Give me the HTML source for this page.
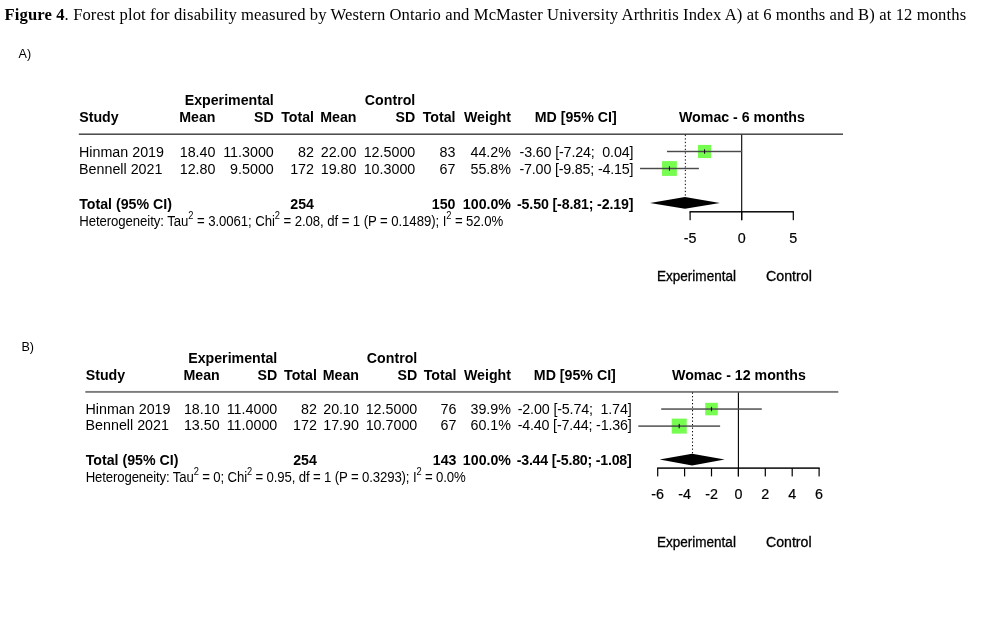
<!DOCTYPE html>
<html><head><meta charset="utf-8"><title>Figure 4</title>
<style>html,body{margin:0;padding:0;background:#fff;width:1008px;height:630px;overflow:hidden}
svg{display:block;will-change:transform} text{font-family:"Liberation Sans", sans-serif}</style></head>
<body><svg width="1008" height="630" viewBox="0 0 1008 630">
<rect width="1008" height="630" fill="#fff"/>
<text x="4.6" y="19.7" style='font-family:"Liberation Serif", serif' font-size="16.6" fill="#000" textLength="961.5" lengthAdjust="spacing"><tspan font-weight="bold">Figure 4</tspan>. Forest plot for disability measured by Western Ontario and McMaster University Arthritis Index A) at 6 months and B) at 12 months</text>
<text transform="translate(18.5,57.5) scale(1,1.08)" text-anchor="start" font-size="12.6" fill="#000" >A)</text>
<text transform="translate(273.8,104.9) scale(1,1.08)" text-anchor="end" font-size="14.2" font-weight="bold" fill="#000" >Experimental</text>
<text transform="translate(415.3,104.9) scale(1,1.08)" text-anchor="end" font-size="14.2" font-weight="bold" fill="#000" >Control</text>
<text transform="translate(79.2,122) scale(1,1.08)" text-anchor="start" font-size="14.2" font-weight="bold" fill="#000" >Study</text>
<text transform="translate(215.5,122) scale(1,1.08)" text-anchor="end" font-size="14.2" font-weight="bold" fill="#000" >Mean</text>
<text transform="translate(273.8,122) scale(1,1.08)" text-anchor="end" font-size="14.2" font-weight="bold" fill="#000" >SD</text>
<text transform="translate(314,122) scale(1,1.08)" text-anchor="end" font-size="14.2" font-weight="bold" fill="#000" >Total</text>
<text transform="translate(356.5,122) scale(1,1.08)" text-anchor="end" font-size="14.2" font-weight="bold" fill="#000" >Mean</text>
<text transform="translate(415.3,122) scale(1,1.08)" text-anchor="end" font-size="14.2" font-weight="bold" fill="#000" >SD</text>
<text transform="translate(455.5,122) scale(1,1.08)" text-anchor="end" font-size="14.2" font-weight="bold" fill="#000" >Total</text>
<text transform="translate(511,122) scale(1,1.08)" text-anchor="end" font-size="14.2" font-weight="bold" fill="#000" >Weight</text>
<text transform="translate(575.7,122) scale(1,1.08)" text-anchor="middle" font-size="14.2" font-weight="bold" fill="#000" >MD [95% CI]</text>
<text transform="translate(741.9,122) scale(1,1.08)" text-anchor="middle" font-size="14.2" font-weight="bold" fill="#000" >Womac - 6 months</text>
<rect x="78.8" y="133.45" width="764.2" height="1.5" fill="#474747"/>
<text transform="translate(79.0,156.7) scale(1,1.08)" text-anchor="start" font-size="14.3" fill="#000" >Hinman 2019</text>
<text transform="translate(215.5,156.7) scale(1,1.08)" text-anchor="end" font-size="14.3" fill="#000" >18.40</text>
<text transform="translate(273.8,156.7) scale(1,1.08)" text-anchor="end" font-size="14.3" fill="#000" >11.3000</text>
<text transform="translate(314,156.7) scale(1,1.08)" text-anchor="end" font-size="14.3" fill="#000" >82</text>
<text transform="translate(356.5,156.7) scale(1,1.08)" text-anchor="end" font-size="14.3" fill="#000" >22.00</text>
<text transform="translate(415.3,156.7) scale(1,1.08)" text-anchor="end" font-size="14.3" fill="#000" >12.5000</text>
<text transform="translate(455.5,156.7) scale(1,1.08)" text-anchor="end" font-size="14.3" fill="#000" >83</text>
<text transform="translate(511,156.7) scale(1,1.08)" text-anchor="end" font-size="14.3" fill="#000" >44.2%</text>
<text transform="translate(633.5,156.7) scale(1,1.08)" text-anchor="end" font-size="14.3" fill="#000" xml:space="preserve" textLength="114" lengthAdjust="spacing">-3.60 [-7.24;  0.04]</text>
<text transform="translate(79.0,173.6) scale(1,1.08)" text-anchor="start" font-size="14.3" fill="#000" >Bennell 2021</text>
<text transform="translate(215.5,173.6) scale(1,1.08)" text-anchor="end" font-size="14.3" fill="#000" >12.80</text>
<text transform="translate(273.8,173.6) scale(1,1.08)" text-anchor="end" font-size="14.3" fill="#000" >9.5000</text>
<text transform="translate(314,173.6) scale(1,1.08)" text-anchor="end" font-size="14.3" fill="#000" >172</text>
<text transform="translate(356.5,173.6) scale(1,1.08)" text-anchor="end" font-size="14.3" fill="#000" >19.80</text>
<text transform="translate(415.3,173.6) scale(1,1.08)" text-anchor="end" font-size="14.3" fill="#000" >10.3000</text>
<text transform="translate(455.5,173.6) scale(1,1.08)" text-anchor="end" font-size="14.3" fill="#000" >67</text>
<text transform="translate(511,173.6) scale(1,1.08)" text-anchor="end" font-size="14.3" fill="#000" >55.8%</text>
<text transform="translate(633.5,173.6) scale(1,1.08)" text-anchor="end" font-size="14.3" fill="#000" xml:space="preserve" textLength="114" lengthAdjust="spacing">-7.00 [-9.85; -4.15]</text>
<text transform="translate(79.2,208.7) scale(1,1.08)" text-anchor="start" font-size="14.2" font-weight="bold" fill="#000" >Total (95% CI)</text>
<text transform="translate(314,208.7) scale(1,1.08)" text-anchor="end" font-size="14.2" font-weight="bold" fill="#000" >254</text>
<text transform="translate(455.5,208.7) scale(1,1.08)" text-anchor="end" font-size="14.2" font-weight="bold" fill="#000" >150</text>
<text transform="translate(511,208.7) scale(1,1.08)" text-anchor="end" font-size="14.2" font-weight="bold" fill="#000" >100.0%</text>
<text transform="translate(633.5,208.7) scale(1,1.08)" text-anchor="end" font-size="14.2" font-weight="bold" fill="#000" textLength="116.5" lengthAdjust="spacing">-5.50 [-8.81; -2.19]</text>
<text transform="translate(79.2,225.5) scale(1,1.1)" font-size="13.2" fill="#000" textLength="424" lengthAdjust="spacing">Heterogeneity: Tau<tspan dy="-6" font-size="9.3">2</tspan><tspan dy="6"> = 3.0061; Chi</tspan><tspan dy="-6" font-size="9.3">2</tspan><tspan dy="6"> = 2.08, df = 1 (P = 0.1489); I</tspan><tspan dy="-6" font-size="9.3">2</tspan><tspan dy="6"> = 52.0%</tspan></text>
<rect x="741.1500000000001" y="134.79999999999998" width="1.1" height="85.40000000000003" fill="#000"/>
<line x1="685.34" y1="134.79999999999998" x2="685.34" y2="197.1" stroke="#000" stroke-width="1" stroke-dasharray="1.3 2.2"/>
<rect x="697.948" y="144.9" width="13.2" height="13.2" fill="#77FC50"/>
<rect x="666.9832" y="150.775" width="75.12959999999998" height="1.45" fill="#4a4a4a"/>
<rect x="703.998" y="149.3" width="1.1" height="4.399999999999977" fill="#111"/>
<rect x="662.0600000000001" y="161.1" width="14.8" height="14.8" fill="#77FC50"/>
<rect x="640.048" y="167.775" width="58.82400000000007" height="1.45" fill="#4a4a4a"/>
<rect x="668.9100000000001" y="166.3" width="1.1" height="4.399999999999977" fill="#111"/>
<path d="M649.9808,202.9 L684.94,197.1 L719.8992,202.9 L684.94,208.70000000000002 Z" fill="#000"/>
<rect x="689.5" y="211.07500000000002" width="104.40000000000009" height="1.45" fill="#000"/>
<rect x="689.5" y="211.8" width="1.2" height="8.400000000000006" fill="#000"/>
<text transform="translate(690.1,242.5) scale(1,1.08)" text-anchor="middle" font-size="14.3" fill="#000" stroke="#000" stroke-width="0.2">-5</text>
<rect x="741.1" y="211.8" width="1.2" height="8.400000000000006" fill="#000"/>
<text transform="translate(741.7,242.5) scale(1,1.08)" text-anchor="middle" font-size="14.3" fill="#000" stroke="#000" stroke-width="0.2">0</text>
<rect x="792.7" y="211.8" width="1.2" height="8.400000000000006" fill="#000"/>
<text transform="translate(793.3000000000001,242.5) scale(1,1.08)" text-anchor="middle" font-size="14.3" fill="#000" stroke="#000" stroke-width="0.2">5</text>
<text transform="translate(657,281.3) scale(1,1.02)" text-anchor="start" font-size="13.5" fill="#000" stroke="#000" stroke-width="0.3" textLength="79" lengthAdjust="spacingAndGlyphs">Experimental</text>
<text transform="translate(765.9,281.3) scale(1,1.02)" text-anchor="start" font-size="13.5" fill="#000" stroke="#000" stroke-width="0.3" textLength="46" lengthAdjust="spacingAndGlyphs">Control</text>
<text transform="translate(21.4,351.2) scale(1,1.08)" text-anchor="start" font-size="12.6" fill="#000" >B)</text>
<text transform="translate(277.3,363.3) scale(1,1.08)" text-anchor="end" font-size="14.2" font-weight="bold" fill="#000" >Experimental</text>
<text transform="translate(417.3,363.3) scale(1,1.08)" text-anchor="end" font-size="14.2" font-weight="bold" fill="#000" >Control</text>
<text transform="translate(85.7,379.7) scale(1,1.08)" text-anchor="start" font-size="14.2" font-weight="bold" fill="#000" >Study</text>
<text transform="translate(219.7,379.7) scale(1,1.08)" text-anchor="end" font-size="14.2" font-weight="bold" fill="#000" >Mean</text>
<text transform="translate(277.3,379.7) scale(1,1.08)" text-anchor="end" font-size="14.2" font-weight="bold" fill="#000" >SD</text>
<text transform="translate(316.9,379.7) scale(1,1.08)" text-anchor="end" font-size="14.2" font-weight="bold" fill="#000" >Total</text>
<text transform="translate(359,379.7) scale(1,1.08)" text-anchor="end" font-size="14.2" font-weight="bold" fill="#000" >Mean</text>
<text transform="translate(417.3,379.7) scale(1,1.08)" text-anchor="end" font-size="14.2" font-weight="bold" fill="#000" >SD</text>
<text transform="translate(456.5,379.7) scale(1,1.08)" text-anchor="end" font-size="14.2" font-weight="bold" fill="#000" >Total</text>
<text transform="translate(511,379.7) scale(1,1.08)" text-anchor="end" font-size="14.2" font-weight="bold" fill="#000" >Weight</text>
<text transform="translate(574.8,379.7) scale(1,1.08)" text-anchor="middle" font-size="14.2" font-weight="bold" fill="#000" >MD [95% CI]</text>
<text transform="translate(738.9,379.7) scale(1,1.08)" text-anchor="middle" font-size="14.2" font-weight="bold" fill="#000" >Womac - 12 months</text>
<rect x="85.3" y="390.95" width="753.0" height="1.9" fill="#7c7c7c"/>
<text transform="translate(85.5,413.8) scale(1,1.08)" text-anchor="start" font-size="14.3" fill="#000" >Hinman 2019</text>
<text transform="translate(219.7,413.8) scale(1,1.08)" text-anchor="end" font-size="14.3" fill="#000" >18.10</text>
<text transform="translate(277.3,413.8) scale(1,1.08)" text-anchor="end" font-size="14.3" fill="#000" >11.4000</text>
<text transform="translate(316.9,413.8) scale(1,1.08)" text-anchor="end" font-size="14.3" fill="#000" >82</text>
<text transform="translate(359,413.8) scale(1,1.08)" text-anchor="end" font-size="14.3" fill="#000" >20.10</text>
<text transform="translate(417.3,413.8) scale(1,1.08)" text-anchor="end" font-size="14.3" fill="#000" >12.5000</text>
<text transform="translate(456.5,413.8) scale(1,1.08)" text-anchor="end" font-size="14.3" fill="#000" >76</text>
<text transform="translate(511,413.8) scale(1,1.08)" text-anchor="end" font-size="14.3" fill="#000" >39.9%</text>
<text transform="translate(631.7,413.8) scale(1,1.08)" text-anchor="end" font-size="14.3" fill="#000" xml:space="preserve" textLength="114" lengthAdjust="spacing">-2.00 [-5.74;  1.74]</text>
<text transform="translate(85.5,430.3) scale(1,1.08)" text-anchor="start" font-size="14.3" fill="#000" >Bennell 2021</text>
<text transform="translate(219.7,430.3) scale(1,1.08)" text-anchor="end" font-size="14.3" fill="#000" >13.50</text>
<text transform="translate(277.3,430.3) scale(1,1.08)" text-anchor="end" font-size="14.3" fill="#000" >11.0000</text>
<text transform="translate(316.9,430.3) scale(1,1.08)" text-anchor="end" font-size="14.3" fill="#000" >172</text>
<text transform="translate(359,430.3) scale(1,1.08)" text-anchor="end" font-size="14.3" fill="#000" >17.90</text>
<text transform="translate(417.3,430.3) scale(1,1.08)" text-anchor="end" font-size="14.3" fill="#000" >10.7000</text>
<text transform="translate(456.5,430.3) scale(1,1.08)" text-anchor="end" font-size="14.3" fill="#000" >67</text>
<text transform="translate(511,430.3) scale(1,1.08)" text-anchor="end" font-size="14.3" fill="#000" >60.1%</text>
<text transform="translate(631.7,430.3) scale(1,1.08)" text-anchor="end" font-size="14.3" fill="#000" xml:space="preserve" textLength="114" lengthAdjust="spacing">-4.40 [-7.44; -1.36]</text>
<text transform="translate(85.7,464.6) scale(1,1.08)" text-anchor="start" font-size="14.2" font-weight="bold" fill="#000" >Total (95% CI)</text>
<text transform="translate(316.9,464.6) scale(1,1.08)" text-anchor="end" font-size="14.2" font-weight="bold" fill="#000" >254</text>
<text transform="translate(456.5,464.6) scale(1,1.08)" text-anchor="end" font-size="14.2" font-weight="bold" fill="#000" >143</text>
<text transform="translate(511,464.6) scale(1,1.08)" text-anchor="end" font-size="14.2" font-weight="bold" fill="#000" >100.0%</text>
<text transform="translate(631.7,464.6) scale(1,1.08)" text-anchor="end" font-size="14.2" font-weight="bold" fill="#000" textLength="115" lengthAdjust="spacing">-3.44 [-5.80; -1.08]</text>
<text transform="translate(85.7,481.8) scale(1,1.1)" font-size="13.2" fill="#000" textLength="380" lengthAdjust="spacing">Heterogeneity: Tau<tspan dy="-6" font-size="9.3">2</tspan><tspan dy="6"> = 0; Chi</tspan><tspan dy="-6" font-size="9.3">2</tspan><tspan dy="6"> = 0.95, df = 1 (P = 0.3293); I</tspan><tspan dy="-6" font-size="9.3">2</tspan><tspan dy="6"> = 0.0%</tspan></text>
<rect x="737.85" y="392.5" width="1.1" height="83.90000000000003" fill="#000"/>
<line x1="692.5319999999999" y1="392.5" x2="692.5319999999999" y2="453.8" stroke="#000" stroke-width="1" stroke-dasharray="1.3 2.2"/>
<rect x="705.25" y="402.8" width="12.5" height="12.5" fill="#77FC50"/>
<rect x="661.197" y="408.325" width="100.606" height="1.45" fill="#4a4a4a"/>
<rect x="710.95" y="406.85" width="1.1" height="4.399999999999977" fill="#111"/>
<rect x="671.72" y="418.6" width="15" height="15" fill="#77FC50"/>
<rect x="638.332" y="425.375" width="81.77599999999995" height="1.45" fill="#4a4a4a"/>
<rect x="678.6700000000001" y="423.90000000000003" width="1.1" height="4.399999999999977" fill="#111"/>
<path d="M659.59,459.6 L692.132,453.8 L724.674,459.6 L692.132,465.40000000000003 Z" fill="#000"/>
<rect x="657.1" y="467.375" width="162.5999999999999" height="1.45" fill="#000"/>
<rect x="657.1" y="468.1" width="1.2" height="8.300000000000011" fill="#000"/>
<text transform="translate(657.7,498.9) scale(1,1.08)" text-anchor="middle" font-size="14.3" fill="#000" stroke="#000" stroke-width="0.2">-6</text>
<rect x="684.0" y="468.1" width="1.2" height="8.300000000000011" fill="#000"/>
<text transform="translate(684.6,498.9) scale(1,1.08)" text-anchor="middle" font-size="14.3" fill="#000" stroke="#000" stroke-width="0.2">-4</text>
<rect x="710.9" y="468.1" width="1.2" height="8.300000000000011" fill="#000"/>
<text transform="translate(711.5,498.9) scale(1,1.08)" text-anchor="middle" font-size="14.3" fill="#000" stroke="#000" stroke-width="0.2">-2</text>
<rect x="737.8" y="468.1" width="1.2" height="8.300000000000011" fill="#000"/>
<text transform="translate(738.4,498.9) scale(1,1.08)" text-anchor="middle" font-size="14.3" fill="#000" stroke="#000" stroke-width="0.2">0</text>
<rect x="764.6999999999999" y="468.1" width="1.2" height="8.300000000000011" fill="#000"/>
<text transform="translate(765.3,498.9) scale(1,1.08)" text-anchor="middle" font-size="14.3" fill="#000" stroke="#000" stroke-width="0.2">2</text>
<rect x="791.5999999999999" y="468.1" width="1.2" height="8.300000000000011" fill="#000"/>
<text transform="translate(792.1999999999999,498.9) scale(1,1.08)" text-anchor="middle" font-size="14.3" fill="#000" stroke="#000" stroke-width="0.2">4</text>
<rect x="818.4999999999999" y="468.1" width="1.2" height="8.300000000000011" fill="#000"/>
<text transform="translate(819.0999999999999,498.9) scale(1,1.08)" text-anchor="middle" font-size="14.3" fill="#000" stroke="#000" stroke-width="0.2">6</text>
<text transform="translate(656.9,547.4) scale(1,1.02)" text-anchor="start" font-size="13.5" fill="#000" stroke="#000" stroke-width="0.3" textLength="79" lengthAdjust="spacingAndGlyphs">Experimental</text>
<text transform="translate(766,547.4) scale(1,1.02)" text-anchor="start" font-size="13.5" fill="#000" stroke="#000" stroke-width="0.3" textLength="45.6" lengthAdjust="spacingAndGlyphs">Control</text>
</svg></body></html>
